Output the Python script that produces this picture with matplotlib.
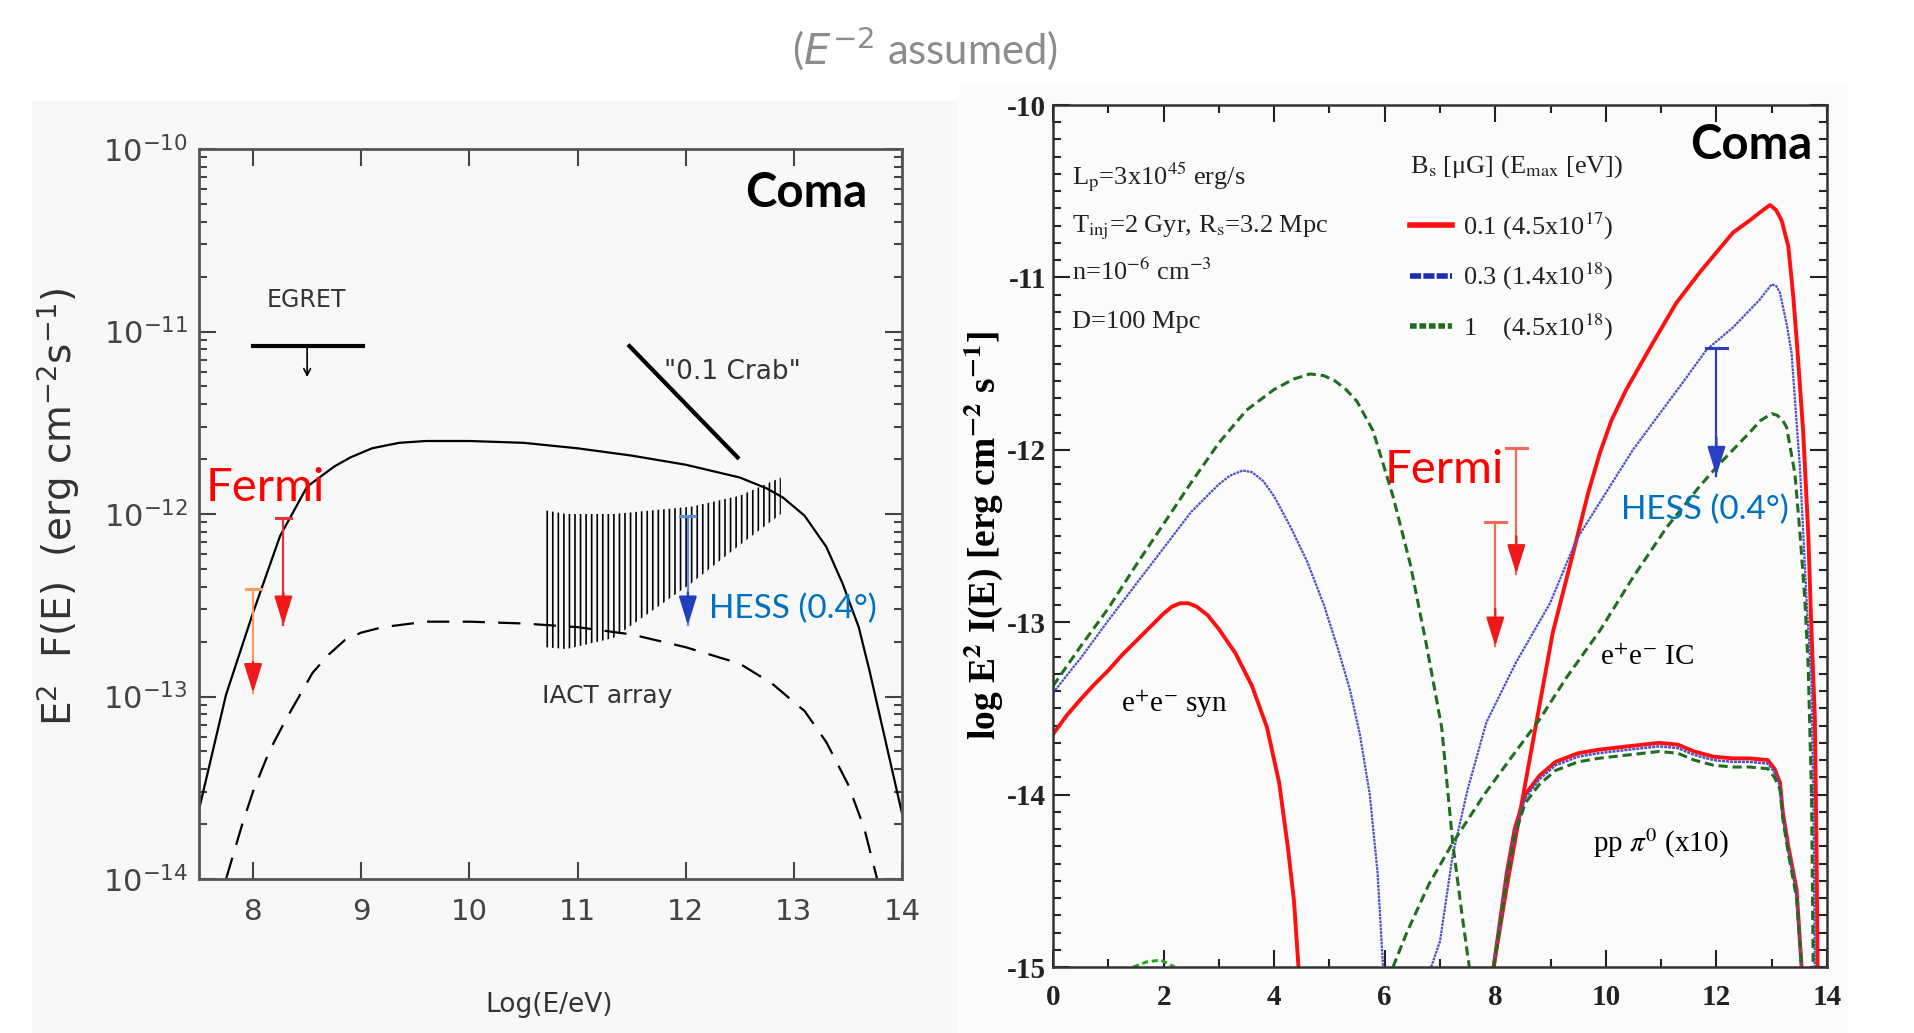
import numpy as np
import matplotlib
matplotlib.use("Agg")
import matplotlib.pyplot as plt
import matplotlib.ticker as ticker
from matplotlib.lines import Line2D
from matplotlib.patches import Rectangle
from matplotlib.font_manager import FontProperties

plt.rcParams['axes.unicode_minus'] = False
plt.rcParams['hatch.linewidth'] = 1.2

# ---------------- left panel data : log10(E/eV) vs log10(E^2 F) ----------------
left_x = [7.5, 7.75, 8.0, 8.25, 8.5, 8.75, 8.9, 9.1, 9.35, 9.6, 10.0, 10.5, 11.0, 11.5,
          12.0, 12.5, 12.75, 12.9, 13.1, 13.3, 13.45, 13.6, 13.7, 13.8, 13.9, 14.0]
left_solid = [-13.62, -12.99, -12.54, -12.12, -11.85, -11.74, -11.69, -11.64, -11.61,
              -11.60, -11.60, -11.61, -11.64, -11.68, -11.73, -11.80, -11.86, -11.91,
              -12.01, -12.18, -12.38, -12.62, -12.86, -13.12, -13.38, -13.64]
left_dash_x = [7.75, 7.9, 8.0, 8.15, 8.3, 8.55, 8.7, 8.85, 9.0, 9.2, 9.6, 10.0, 10.5, 11.0,
               11.5, 12.0, 12.5, 12.8, 13.1, 13.3, 13.5, 13.65, 13.77]
left_dash = [-14.0, -13.7, -13.52, -13.3, -13.13, -12.87, -12.77, -12.69, -12.65, -12.62,
             -12.59, -12.59, -12.60, -12.62, -12.66, -12.73, -12.82, -12.93, -13.08,
             -13.25, -13.48, -13.72, -14.0]

# IACT sensitivity band
iact_x = [10.7, 10.9, 11.33, 12.05, 12.5, 12.88]
iact_hi = [-11.98, -12.0, -12.0, -11.96, -11.9, -11.8]
iact_lo = [-12.73, -12.74, -12.68, -12.38, -12.17, -12.0]

egret_x = [8.0, 9.02]
egret_y = -11.08
crab_x = [11.48, 12.48]
crab_y = [-11.08, -11.69]

# upper limits: x, top, arrow tip, line colour, head colour
left_limits = [
    (8.0, -12.41, -12.98, '#f5a060', '#f01818'),
    (8.28, -12.02, -12.61, '#e8303a', '#f01818'),
    (12.02, -12.01, -12.61, '#5b8fd8', '#1f3fbf'),
]

# ---------------- right panel data : log E [eV] vs log E^2 I(E) ----------------
red_syn_x = [0, 0.25, 0.52, 0.75, 1.0, 1.25, 1.5, 1.75, 2.0, 2.15, 2.3, 2.45, 2.6, 2.8,
             3.0, 3.3, 3.6, 3.87, 4.09, 4.25, 4.36, 4.44]
red_syn = [-13.65, -13.54, -13.44, -13.36, -13.28, -13.19, -13.11, -13.03, -12.95, -12.91,
           -12.89, -12.89, -12.91, -12.96, -13.04, -13.18, -13.37, -13.61, -13.93, -14.31,
           -14.62, -15.0]
blue_syn_x = [0, 0.52, 1.0, 1.5, 2.0, 2.5, 3.0, 3.2, 3.43, 3.6, 3.8, 4.0, 4.3, 4.6, 4.9,
              5.15, 5.37, 5.55, 5.73, 5.87, 5.97]
blue_syn = [-13.41, -13.2, -12.99, -12.78, -12.57, -12.36, -12.2, -12.15, -12.12, -12.13,
            -12.18, -12.27, -12.45, -12.65, -12.9, -13.15, -13.39, -13.65, -14.0, -14.45,
            -15.0]
green_syn_x = [0, 0.5, 1.0, 1.5, 2.0, 2.5, 3.0, 3.5, 4.0, 4.35, 4.65, 4.9, 5.1, 5.3, 5.5,
               5.79, 6.15, 6.46, 6.76, 7.03, 7.23, 7.4, 7.53]
green_syn = [-13.37, -13.14, -12.92, -12.67, -12.43, -12.19, -11.96, -11.77, -11.65, -11.59,
             -11.56, -11.57, -11.6, -11.65, -11.72, -11.89, -12.27, -12.66, -13.14, -13.61,
             -14.28, -14.7, -15.0]
green_bump_x = [1.45, 1.7, 1.95, 2.2]
green_bump = [-15.0, -14.97, -14.96, -15.0]

red_ic_x = [7.97, 8.2, 8.45, 8.75, 9.04, 9.47, 9.68, 9.89, 10.1, 10.37, 10.85, 11.27, 11.7,
            12.3, 12.6, 12.8, 12.97, 13.08, 13.18, 13.3, 13.39, 13.46, 13.57, 13.66, 13.72,
            13.78, 13.81, 13.83]
red_ic = [-15.0, -14.55, -14.1, -13.57, -13.06, -12.52, -12.25, -12.02, -11.83, -11.65,
          -11.38, -11.15, -10.97, -10.74, -10.67, -10.62, -10.58, -10.61, -10.67, -10.82,
          -11.11, -11.4, -11.9, -12.48, -13.06, -13.55, -14.3, -15.0]
blue_ic_x = [6.84, 7.0, 7.23, 7.5, 7.84, 8.38, 8.99, 9.47, 10.49, 11.39, 11.82, 12.3, 12.78,
             12.9, 13.0, 13.08, 13.15, 13.27, 13.36, 13.42, 13.51, 13.57, 13.63, 13.72,
             13.76, 13.78]
blue_ic = [-15.0, -14.85, -14.35, -13.97, -13.58, -13.23, -12.89, -12.52, -12.0, -11.61,
           -11.42, -11.29, -11.13, -11.08, -11.04, -11.05, -11.09, -11.27, -11.44, -11.71,
           -12.1, -12.48, -12.87, -13.35, -14.2, -15.0]
green_ic_x = [6.15, 6.4, 6.8, 7.23, 7.8, 8.3, 8.81, 9.29, 9.89, 10.49, 11.1, 11.7, 12.06,
              12.6, 12.8, 13.0, 13.1, 13.2, 13.27, 13.42, 13.51, 13.6, 13.66, 13.72, 13.75]
green_ic = [-15.0, -14.8, -14.52, -14.28, -14.0, -13.78, -13.56, -13.32, -13.05, -12.74,
            -12.45, -12.21, -12.08, -11.9, -11.83, -11.79, -11.8, -11.83, -11.87, -12.14,
            -12.48, -12.87, -13.26, -14.0, -15.0]

pp_x = [7.97, 8.1, 8.21, 8.35, 8.54, 8.8, 9.09, 9.5, 9.86, 10.4, 10.96, 11.3, 11.6, 11.95,
        12.3, 12.6, 12.93, 13.05, 13.15, 13.2, 13.3, 13.45, 13.54]
pp_red = [-15.0, -14.7, -14.45, -14.2, -14.0, -13.89, -13.81, -13.76, -13.74, -13.72, -13.7,
          -13.71, -13.75, -13.78, -13.79, -13.79, -13.8, -13.85, -13.93, -14.1, -14.3,
          -14.55, -15.0]
pp_blue = [-15.0, -14.71, -14.47, -14.22, -14.02, -13.91, -13.83, -13.78, -13.76, -13.74,
           -13.72, -13.73, -13.77, -13.8, -13.81, -13.81, -13.82, -13.87, -13.95, -14.12,
           -14.32, -14.57, -15.0]
pp_green = [-15.0, -14.73, -14.49, -14.24, -14.05, -13.94, -13.86, -13.81, -13.79, -13.77,
            -13.75, -13.76, -13.8, -13.83, -13.84, -13.84, -13.85, -13.9, -13.97, -14.14,
            -14.34, -14.6, -15.0]

right_limits = [
    (8.38, -11.99, -12.72, '#f06a5a', '#f01818'),
    (8.0, -12.42, -13.14, '#f06a5a', '#f01818'),
    (12.0, -11.41, -12.15, '#2a3fc0', '#2a3fc0'),
]

legend_title = r'B$_{\mathrm{s}}$ [μG] (E$_{\mathrm{max}}$ [eV])'
legend_labels = [r'0.1 (4.5x10$^{17}$)', r'0.3 (1.4x10$^{18}$)', r'1    (4.5x10$^{18}$)']
param_lines = [r'L$_{\mathrm{p}}$=3x10$^{45}$ erg/s',
               r'T$_{\mathrm{inj}}$=2 Gyr, R$_{\mathrm{s}}$=3.2 Mpc',
               r'n=10$^{-6}$ cm$^{-3}$',
               r'D=100 Mpc']
param_y = [-10.42, -10.71, -10.97, -11.26]

RED = '#ff1010'
BLUE = '#5050c8'
GREEN = '#1f6e1f'
HESS_C = '#0070c0'
gray_txt = '#333333'
serif = ['Liberation Serif', 'DejaVu Serif']


def upper_limit(ax, x, top, tip, line_c, head_c, cap, log):
    f = (lambda v: 10 ** v) if log else (lambda v: v)
    ax.plot([x, x], [f(top), f(tip)], color=line_c, lw=1.6, zorder=4)
    ax.plot([x - cap, x + cap], [f(top), f(top)], color=line_c, lw=2.2, zorder=4)
    ax.annotate('', xy=(x, f(tip)), xytext=(x, f(tip + 0.3 * (top - tip))),
                arrowprops=dict(arrowstyle='-|>,head_length=0.9,head_width=0.28',
                                color=head_c, lw=1.6, mutation_scale=20,
                                shrinkA=0, shrinkB=0), zorder=5)


fig = plt.figure(figsize=(19.14, 10.33), dpi=100)
fig.add_artist(Rectangle((32 / 1914, 0), (957 - 32) / 1914, (1033 - 101) / 1033,
                         transform=fig.transFigure, color='#f8f8f8', zorder=-10))
fig.add_artist(Rectangle((960 / 1914, 0), (1847 - 960) / 1914, (1033 - 85) / 1033,
                         transform=fig.transFigure, color='#fbfbfb', zorder=-10))

fig.text(0.483, 0.953, r'($\it{E}^{-2}$ assumed)', ha='center', va='center',
         fontsize=30, family='Lato', color='#8c8c8c', math_fontfamily='dejavusans')

# ======================= left panel =======================
ax = fig.add_axes([199 / 1914, 1 - 879 / 1033, (902 - 199) / 1914, 730 / 1033])
ax.set_facecolor('none')
ax.set_yscale('log')
ax.plot(left_x, 10 ** np.array(left_solid), color='black', lw=1.6)
ax.plot(left_dash_x, 10 ** np.array(left_dash), color='black', lw=1.6,
        linestyle=(0, (10, 6)))
ax.fill_between(iact_x, 10 ** np.array(iact_lo), 10 ** np.array(iact_hi),
                facecolor='none', edgecolor='black', hatch='|||', lw=0)
ax.plot(egret_x, [10 ** egret_y] * 2, color='black', lw=3)
ax.annotate('', xy=(8.5, 10 ** -11.25), xytext=(8.5, 10 ** egret_y),
            arrowprops=dict(arrowstyle='->', color='black', lw=1.2, mutation_scale=12,
                            shrinkA=0, shrinkB=0))
ax.plot(crab_x, 10 ** np.array(crab_y), color='black', lw=3)
for x, top, tip, lc, hc in left_limits:
    upper_limit(ax, x, top, tip, lc, hc, 0.07, True)

ax.text(8.49, 10 ** -10.83, 'EGRET', ha='center', va='center', fontsize=17,
        color=gray_txt)
ax.text(12.43, 10 ** -11.22, '"0.1 Crab"', ha='center', va='center', fontsize=19,
        color=gray_txt)
ax.text(11.27, 10 ** -13.0, 'IACT array', ha='center', va='center', fontsize=18,
        color=gray_txt)
ax.text(13.68, 10 ** -10.24, 'Coma', ha='right', va='center', fontsize=34,
        family='Lato', weight='bold', color='black')
ax.text(7.56, 10 ** -11.86, 'Fermi', ha='left', va='center', fontsize=34,
        family='Lato', color='#ff0000')
ax.text(12.22, 10 ** -12.52, 'HESS (0.4°)', ha='left', va='center', fontsize=24,
        family='Lato', color=HESS_C)

ax.set_xlim(7.5, 14)
ax.set_ylim(1e-14, 1e-10)
ax.set_xticks(range(8, 15))
ax.set_xticklabels([str(v) for v in range(8, 15)], fontsize=21, color=gray_txt)
ax.set_yticks([1e-14, 1e-13, 1e-12, 1e-11, 1e-10])
ax.set_yticklabels([r'$10^{-14}$', r'$10^{-13}$', r'$10^{-12}$', r'$10^{-11}$',
                    r'$10^{-10}$'], fontsize=22, color=gray_txt,
                   math_fontfamily='dejavusans')
ax.yaxis.set_minor_locator(ticker.LogLocator(base=10, subs=np.arange(2, 10)))
ax.yaxis.set_minor_formatter(ticker.NullFormatter())
ax.tick_params(which='both', direction='in', top=True, right=True, colors='#444444')
ax.tick_params(which='major', length=12, width=1.5)
ax.tick_params(which='minor', length=6, width=1.5)
ax.tick_params(axis='x', pad=14)
ax.tick_params(axis='y', pad=8)
for sp in ax.spines.values():
    sp.set_color('#555555')
    sp.set_linewidth(2)
ax.set_xlabel('Log(E/eV)', fontsize=19, color=gray_txt)
ax.xaxis.set_label_coords(0.498, -0.155)
ax.set_ylabel(r'E$^2$  F(E)  (erg cm$^{-2}$s$^{-1}$)', fontsize=28, color=gray_txt,
              math_fontfamily='dejavusans')
ax.yaxis.set_label_coords(-0.166, 0.51)

# ======================= right panel =======================
bx = fig.add_axes([1053 / 1914, 1 - 967 / 1033, (1827 - 1053) / 1914, 862 / 1033])
bx.set_facecolor('none')
blue_ls = (0, (1.2, 0.4))
green_ls = (0, (3, 1.6))
bx.plot(red_syn_x, red_syn, color=RED, lw=2.8)
bx.plot(red_ic_x, red_ic, color=RED, lw=2.8)
bx.plot(blue_syn_x, blue_syn, color=BLUE, lw=1.6, linestyle=blue_ls)
bx.plot(blue_ic_x, blue_ic, color=BLUE, lw=1.6, linestyle=blue_ls)
bx.plot(green_syn_x, green_syn, color=GREEN, lw=2.2, linestyle=green_ls)
bx.plot(green_ic_x, green_ic, color=GREEN, lw=2.2, linestyle=green_ls)
bx.plot(green_bump_x, green_bump, color='#22aa22', lw=2.2, linestyle=(0, (2, 1.2)))
bx.plot(pp_x, pp_red, color=RED, lw=2.8)
bx.plot(pp_x, pp_blue, color=BLUE, lw=1.8, linestyle=blue_ls)
bx.plot(pp_x, pp_green, color=GREEN, lw=2.2, linestyle=green_ls)
for x, top, tip, lc, hc in right_limits:
    upper_limit(bx, x, top, tip, lc, hc, 0.19, False)

fp_par = FontProperties(family=serif, size=19, math_fontfamily='stix')
for txt, y in zip(param_lines, param_y):
    bx.text(0.34, y, txt, ha='left', va='center', fontproperties=fp_par, color='#222222')

bx.text(6.46, -10.36, legend_title, ha='left', va='center', fontproperties=fp_par,
        color='#222222')
handles = [Line2D([], [], color=RED, lw=4),
           Line2D([], [], color='#1a2fb0', lw=4, linestyle=(0, (2, 0.4))),
           Line2D([], [], color=GREEN, lw=4, linestyle=(0, (1.2, 0.5)))]
leg = bx.legend(handles, legend_labels, loc='upper left', bbox_to_anchor=(0.461, 0.877),
                frameon=False, prop=fp_par, handlelength=1.6, handletextpad=0.4,
                labelspacing=0.73, borderpad=0, borderaxespad=0)
for t in leg.get_texts():
    t.set_color('#222222')

fp_lab = FontProperties(family=serif, size=21, math_fontfamily='stix')
bx.text(2.2, -13.48, r'e$^{+}$e$^{-}$ syn', ha='center', va='center', fontproperties=fp_lab)
bx.text(10.75, -13.21, r'e$^{+}$e$^{-}$ IC', ha='center', va='center', fontproperties=fp_lab)
bx.text(11.0, -14.28, r'pp $\pi^{0}$ (x10)', ha='center', va='center', fontproperties=fp_lab)
bx.text(13.74, -10.23, 'Coma', ha='right', va='center', fontsize=34, family='Lato',
        weight='bold', color='black')
bx.text(6.0, -12.12, 'Fermi', ha='left', va='center', fontsize=34, family='Lato',
        color='#ff0000')
bx.text(10.27, -12.35, 'HESS (0.4°)', ha='left', va='center', fontsize=24, family='Lato',
        color=HESS_C)

bx.set_xlim(0, 14)
bx.set_ylim(-15, -10)
bx.xaxis.set_major_locator(ticker.MultipleLocator(2))
bx.xaxis.set_minor_locator(ticker.MultipleLocator(1))
bx.yaxis.set_major_locator(ticker.MultipleLocator(1))
bx.yaxis.set_minor_locator(ticker.MultipleLocator(0.1))
bx.tick_params(which='both', direction='in', top=True, right=True, colors='#222222')
bx.tick_params(which='major', length=12, width=1.5)
bx.tick_params(which='minor', length=6, width=1.5)
bx.tick_params(axis='x', pad=12)
bx.tick_params(axis='y', pad=5)
fp_tick = FontProperties(family=serif, size=21, weight='bold')
for lab in bx.get_xticklabels() + bx.get_yticklabels():
    lab.set_fontproperties(fp_tick)
for sp in bx.spines.values():
    sp.set_color('#333333')
    sp.set_linewidth(1.8)
bx.set_ylabel(r'log E$^{\mathbf{2}}$ I(E) [erg cm$^{\mathbf{-2}}$ s$^{\mathbf{-1}}$]',
              fontproperties=FontProperties(family=serif, size=27, weight='bold',
                                            math_fontfamily='stix'))
bx.yaxis.set_label_coords(-0.062, 0.5)

fig.savefig('out.png', dpi=100)
